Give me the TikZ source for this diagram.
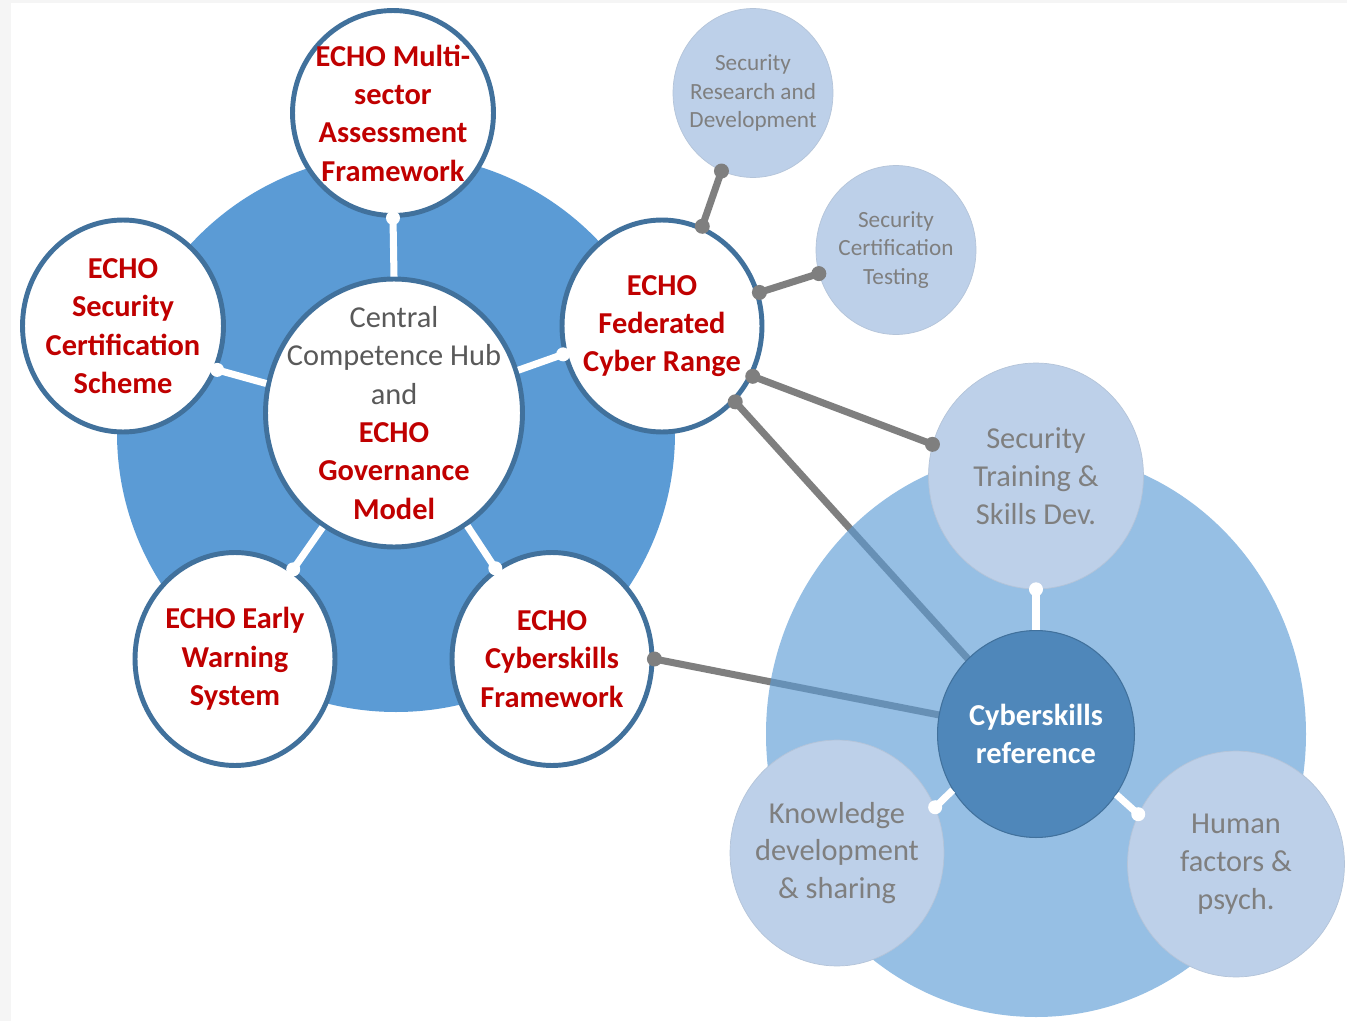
\documentclass[tikz,border=0pt]{standalone}
\usepackage{fontspec}
\setmainfont{Carlito}
\usetikzlibrary{shapes.geometric,shadows}

\definecolor{hubblue}{HTML}{5B9BD5}
\definecolor{ringblue}{HTML}{41719C}
\definecolor{echored}{HTML}{C00000}
\definecolor{paleblue}{HTML}{BDD0E9}
\definecolor{refblue}{HTML}{4F87BA}
\definecolor{linkgrey}{HTML}{7F7F7F}
\definecolor{hubgrey}{HTML}{595959}
\definecolor{edgegrey}{HTML}{F5F5F5}

\newcommand{\hubtxt}[1]{\textcolor{hubgrey}{\mdseries #1}}

\tikzset{
  echo/.style={ellipse,draw=ringblue,line width=2.8pt,fill=white,inner sep=-20pt,align=center,
    text=echored,font=\bfseries\fontsize{17.3}{21.8}\selectfont,
    drop shadow={opacity=0.15,shadow xshift=0pt,shadow yshift=-1.2pt}},
  pale/.style={ellipse,draw=paleblue!85!gray,line width=0.4pt,fill=paleblue,inner sep=-20pt,align=center,
    text=linkgrey,font=\fontsize{17.3}{21.5}\selectfont},
  smallpale/.style={pale,font=\fontsize{13.2}{16.4}\selectfont},
  whitelink/.style={white,line width=4pt},
  greylink/.style={linkgrey,line width=4pt,line cap=round},
}

\begin{document}
\begin{tikzpicture}[x=0.02cm,y=-0.02cm]

	\useasboundingbox (0,0) rectangle (1347,1021);
	\fill[edgegrey] (0,0) rectangle (1347,1021);
	\fill[white] (11,3) rectangle (1347,1021);

	\fill[hubblue] (396,433) circle[radius=279]; %left disc

	\node[echo,minimum width=4.02cm,minimum height=4.1cm] (msaf) at (393,113) {ECHO Multi-\\sector\\Assessment\\Framework};
	\node[echo,minimum width=4.02cm,minimum height=4.24cm] (scs) at (123,326) {ECHO\\Security\\Certification\\Scheme};
	\node[echo,minimum width=4.0cm,minimum height=4.24cm] (fcr) at (662,326) {ECHO\\Federated\\Cyber Range};
	\node[echo,minimum width=4.0cm,minimum height=4.26cm] (ews) at (235,659) {ECHO Early\\Warning\\System};
	\node[echo,minimum width=4.0cm,minimum height=4.26cm] (csf) at (552,659) {ECHO\\Cyberskills\\Framework};
	\node[echo,minimum width=5.14cm,minimum height=5.36cm] (hub) at (394,413)
		{\hubtxt{Central}\\\hubtxt{Competence Hub}\\\hubtxt{and}\\ECHO\\Governance\\Model};

	\draw[whitelink] (msaf.south) -- (hub.north);
	\draw[whitelink] (scs.335) -- (hub.167);
	\draw[whitelink] (fcr.196) -- (hub.19);
	\draw[whitelink] (ews.57) -- (hub.238);
	\draw[whitelink] (csf.122) -- (hub.303);
	\foreach \a in {msaf.south,scs.335,fcr.196,ews.57,csf.122}
		\fill[white] (\a) circle[radius=7];

	\coordinate (refc) at (1036,734);

	\draw[greylink] (fcr.314) -- (refc); %under the right disc
	\draw[greylink] (csf.east) -- (refc);
	\foreach \a in {fcr.314,csf.east}
		\fill[linkgrey] (\a) circle[radius=7.5];

	\fill[hubblue,fill opacity=0.64] (1036,734) ellipse[x radius=270,y radius=283]; %right disc

	\node[pale,minimum width=4.3cm,minimum height=4.52cm] (std) at (1036,476) {Security\\Training \&\\Skills Dev.};
	\node[pale,minimum width=4.28cm,minimum height=4.52cm] (kds) at (837,853) {Knowledge\\development\\\& sharing};
	\node[pale,minimum width=4.34cm,minimum height=4.52cm] (hfp) at (1236,864) {Human\\factors \&\\psych.};
	\node[smallpale,minimum width=3.2cm,minimum height=3.38cm] (srd) at (753,93) {Security\\Research and\\Development};
	\node[smallpale,minimum width=3.2cm,minimum height=3.38cm] (sct) at (896,250) {Security\\Certification\\Testing};
	\node[ellipse,draw=ringblue,line width=0.6pt,fill=refblue,inner sep=-20pt,align=center,
		minimum width=3.94cm,minimum height=4.14cm,text=white,
		font=\bfseries\fontsize{17.3}{21.8}\selectfont] (csr) at (refc) {Cyberskills\\reference};

	\draw[whitelink] (std.south) -- (csr.north);
	\draw[whitelink] (kds.25) -- (csr.214);
	\draw[whitelink] (hfp.153) -- (csr.323);
	\foreach \a in {std.south,kds.25,hfp.153}
		\fill[white] (\a) circle[radius=7];

	\draw[greylink] (fcr.68) -- (srd.248);
	\draw[greylink] (fcr.19) -- (sct.197);
	\draw[greylink] (fcr.331) -- (std.163);
	\foreach \a in {fcr.68,srd.248,fcr.19,sct.197,fcr.331,std.163}
		\fill[linkgrey] (\a) circle[radius=7.5];

\end{tikzpicture}
\end{document}
